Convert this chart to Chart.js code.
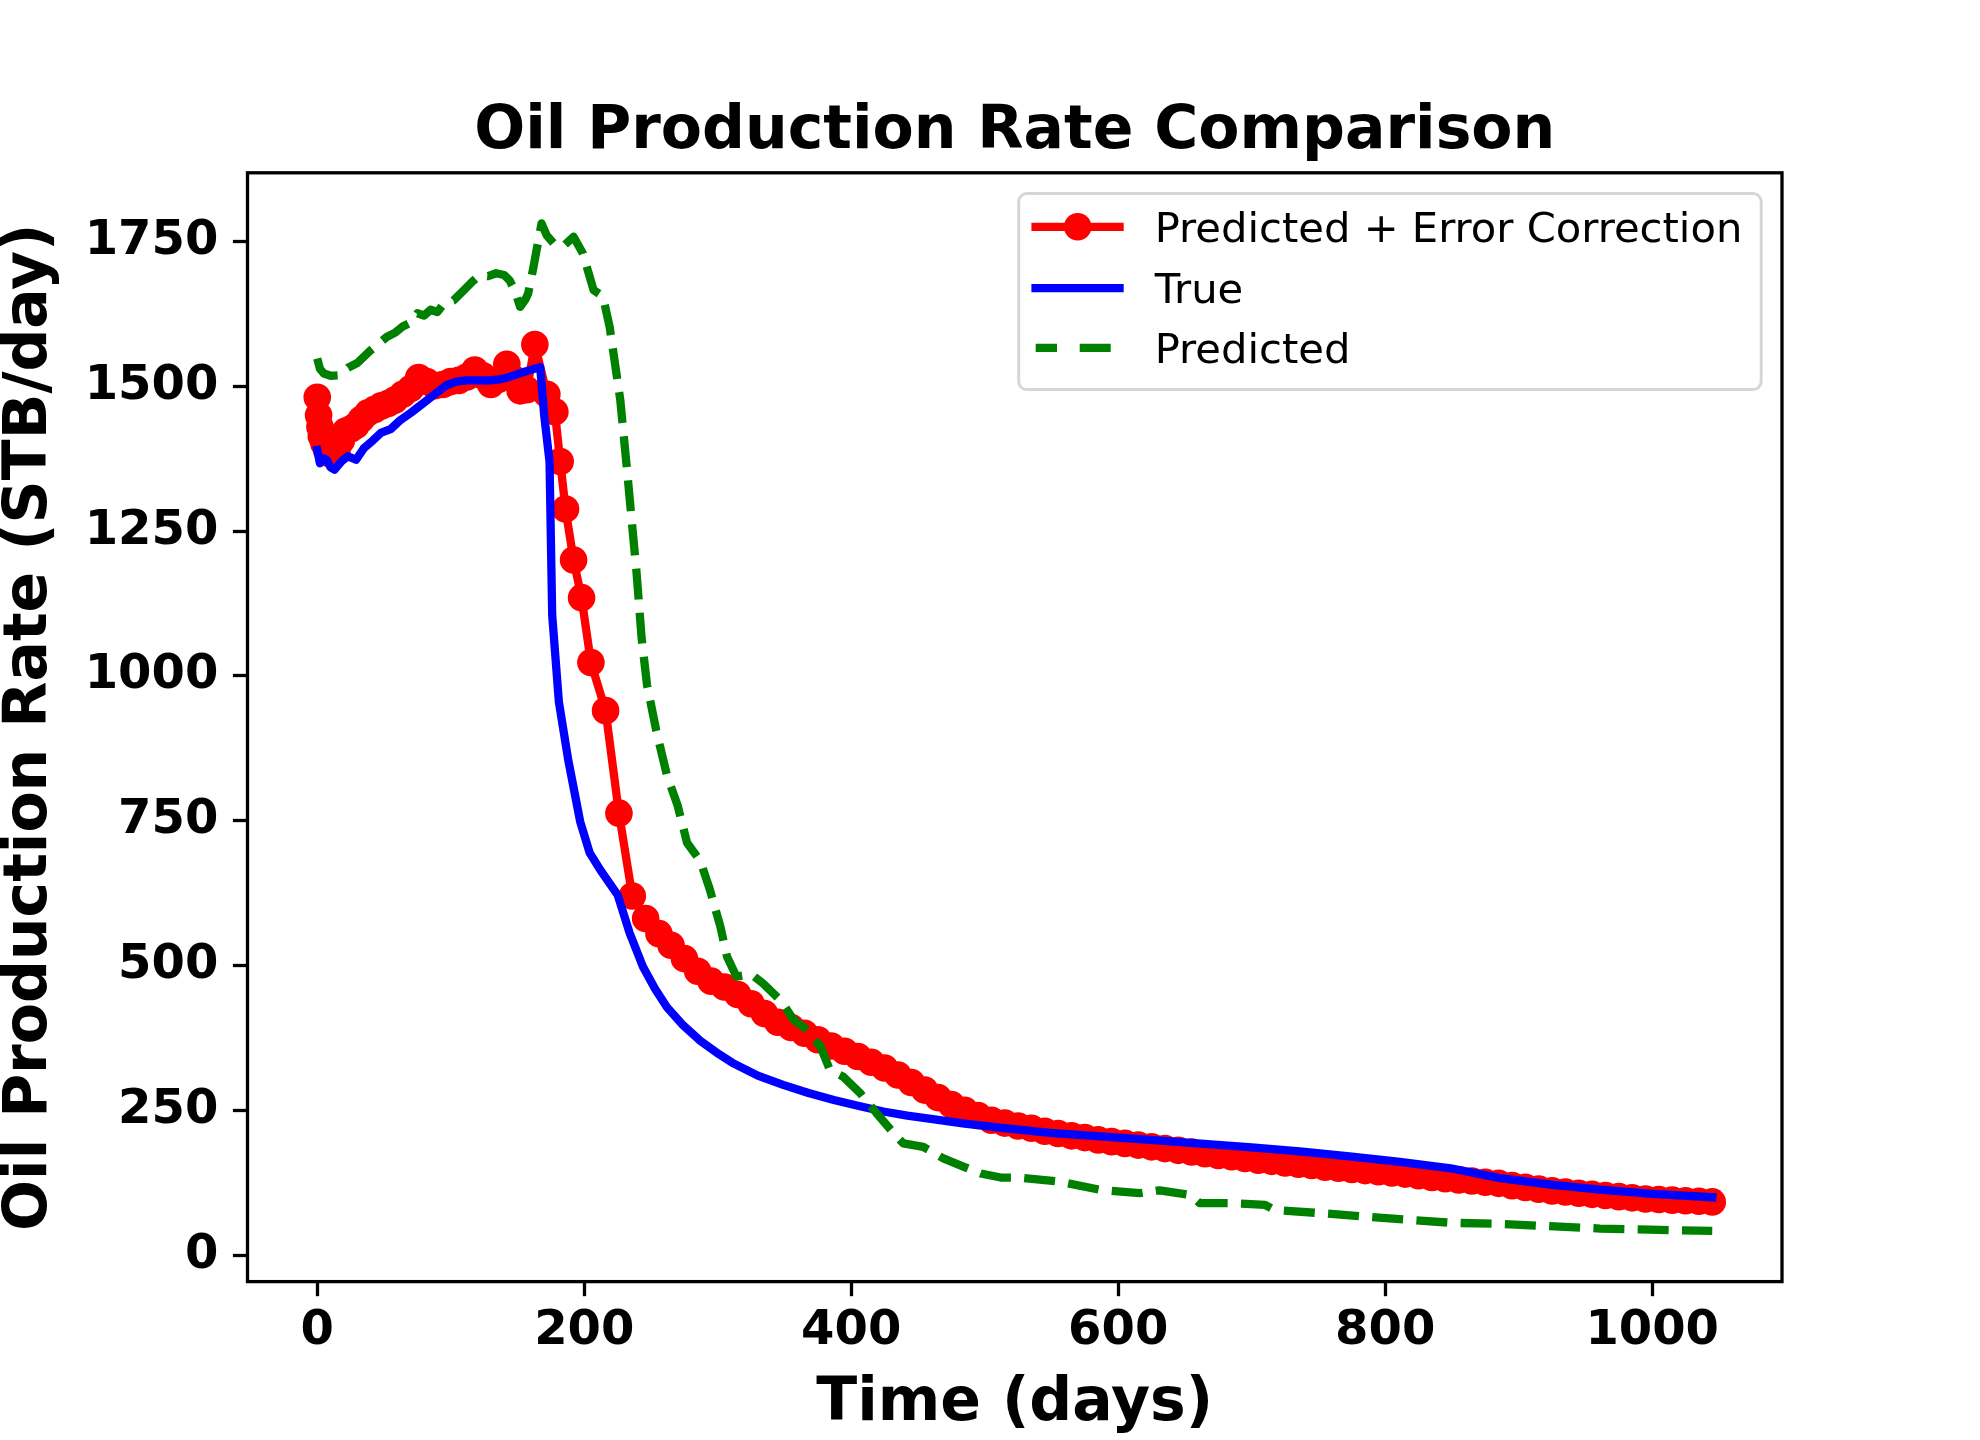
<!DOCTYPE html>
<html>
<head>
<meta charset="utf-8">
<title>Oil Production Rate Comparison</title>
<script src="https://cdn.jsdelivr.net/npm/chart.js@4.4.1/dist/chart.umd.min.js"></script>
<style>
  html, body { margin: 0; padding: 0; background: #fff; }
  canvas { display: block; }
</style>
</head>
<body>
<canvas id="rateChart" width="1980" height="1440"></canvas>
<script>
// Predicted + Error Correction (red, with markers)
const redDays = [0, 1, 2, 3, 5, 7, 9, 12, 15, 18, 21, 25, 29, 33, 38, 43, 48, 53, 58, 64,
  70, 76, 82, 88, 94, 100, 106, 112, 118, 124, 130, 136, 142, 147, 152, 157, 163, 172, 178, 182,
  186, 192, 198, 205, 216, 226, 236, 246, 256, 265,
  275, 285, 295, 305, 315, 325, 335, 345, 355, 365, 375, 385, 395, 405, 415, 425, 435, 445, 455, 465,
  475, 485, 495, 505, 515, 525, 535, 545, 555, 565, 575, 585, 595, 605, 615, 625, 635, 645, 655, 665,
  675, 685, 695, 705, 715, 725, 735, 745, 755, 765, 775, 785, 795, 805, 815, 825, 835, 845, 855, 865,
  875, 885, 895, 905, 915, 925, 935, 945, 955, 965, 975, 985, 995, 1005, 1015, 1025, 1035, 1045];
const redRate = [1481, 1450, 1430, 1414, 1401, 1390, 1384, 1382, 1392, 1406, 1422, 1426, 1432, 1443, 1454, 1460, 1466, 1470, 1476, 1486,
  1496, 1515, 1508, 1501, 1503, 1508, 1510, 1516, 1528, 1518, 1503, 1512, 1538, 1513, 1492, 1494, 1572, 1486, 1456, 1370,
  1288, 1200, 1135, 1023, 940, 763, 620, 581, 555, 535,
  512, 490, 473, 463, 450, 434, 417, 402, 393, 383, 372, 361, 352, 343, 333, 323, 311, 298, 285, 272,
  260, 250, 241, 233, 228, 223, 219, 214, 210, 206, 203, 199, 196, 193, 190, 187, 184, 181, 178, 175,
  172, 170, 167, 164, 162, 159, 157, 155, 152, 150, 148, 146, 144, 142, 140, 137, 134, 132, 130, 128,
  126, 124, 120, 117, 114, 111, 109, 107, 105, 103, 101, 99, 97, 96, 95, 94, 93, 92];

// True (blue)
const trueDays = [0, 2, 4, 7, 10, 13, 18, 23, 29, 35, 42, 48, 55, 62, 70, 79, 88, 97, 104, 112,
  120, 129, 137, 144, 154, 167, 170, 174, 176, 181, 188, 197, 204, 212, 225, 234, 244, 253, 262, 274,
  287, 299, 311, 330, 349, 368, 387, 405, 424, 442, 461, 485, 511, 549, 624, 700, 736, 775, 811, 849,
  886, 924, 961, 1000, 1045];
const trueRate = [1390, 1367, 1376, 1373, 1360, 1356, 1370, 1379, 1373, 1393, 1407, 1420, 1426, 1441, 1454, 1470, 1486, 1502, 1508, 1510,
  1510, 1510, 1512, 1516, 1524, 1533, 1450, 1370, 1105, 955, 855, 748, 695, 665, 622, 556, 498, 460, 428, 397,
  370, 350, 332, 310, 294, 280, 268, 258, 248, 241, 235, 227, 220, 211, 199, 186, 179, 170, 161, 150,
  133, 122, 113, 106, 100];

// Predicted (green dashed)
const predDays = [0, 2, 5, 10, 17, 23, 30, 40, 52, 58, 64, 70, 75, 80, 85, 90, 95, 102, 110, 116,
  122, 128, 134, 140, 144, 148, 152, 156, 158, 162, 168, 172, 177, 184, 192, 199, 207, 214, 219, 222,
  227, 232, 236, 239, 243, 247, 254, 262, 270, 277, 287, 294, 302, 307, 314, 325, 334, 347, 357, 367,
  377, 384, 394, 407, 419, 432, 439, 454, 469, 484, 497, 512, 526, 556, 586, 616, 631, 654, 661, 684,
  710, 717, 755, 818, 849, 886, 923, 961, 998, 1045];
const predRate = [1548, 1530, 1522, 1518, 1519, 1532, 1540, 1562, 1585, 1592, 1603, 1610, 1626, 1622, 1632, 1628, 1643, 1648, 1666, 1680,
  1692, 1690, 1695, 1692, 1683, 1665, 1637, 1650, 1660, 1706, 1781, 1760, 1747, 1741, 1758, 1729, 1666, 1655, 1603, 1556,
  1476, 1357, 1257, 1184, 1065, 985, 905, 828, 776, 712, 680, 632, 567, 515, 481, 485, 469, 440, 406, 389,
  360, 320, 308, 279, 245, 210, 193, 187, 167, 153, 141, 134, 134, 127, 113, 107, 112, 104, 90, 90,
  87, 78, 72, 61, 56, 54, 50, 46, 44, 42];

const xTicks = [0, 200, 400, 600, 800, 1000];
const yTicks = [0, 250, 500, 750, 1000, 1250, 1500, 1750];

function toPoints(xs, ys) {
  return xs.map((x, i) => ({ x: x, y: ys[i] }));
}

Chart.defaults.font.family = "'DejaVu Sans', sans-serif";
Chart.defaults.color = '#000';

// black box around the plot area (all four spines)
const framePlugin = {
  id: 'frame',
  afterDraw(chart) {
    const { ctx, chartArea: a } = chart;
    ctx.save();
    ctx.strokeStyle = '#000';
    ctx.lineWidth = 3.3;
    ctx.strokeRect(a.left, a.top, a.right - a.left, a.bottom - a.top);
    ctx.restore();
  }
};

// legend box in the upper right corner, drawn from the dataset styles
const legendPlugin = {
  id: 'boxLegend',
  afterDraw(chart) {
    const { ctx, chartArea: a } = chart;
    const w = 742.5, h = 196;
    const left = a.right - 20.8 - w;
    const top = a.top + 20.8;
    ctx.save();
    ctx.beginPath();
    ctx.roundRect(left, top, w, h, 8);
    ctx.fillStyle = 'rgba(255,255,255,0.8)';
    ctx.fill();
    ctx.lineWidth = 3;
    ctx.strokeStyle = '#d6d6d6';
    ctx.stroke();

    const lineY = [33.2, 94.5, 154.2];
    const textY = [48.8, 109.2, 169.2];
    chart.data.datasets.forEach((ds, i) => {
      const y = top + lineY[i];
      ctx.strokeStyle = ds.borderColor;
      ctx.lineWidth = ds.borderWidth;
      ctx.lineCap = 'butt';
      ctx.beginPath();
      if (ds.borderDash) {
        ctx.moveTo(left + 17, y); ctx.lineTo(left + 38.3, y);
        ctx.moveTo(left + 61, y); ctx.lineTo(left + 92, y);
      } else {
        ctx.moveTo(left + 12.7, y); ctx.lineTo(left + 105, y);
      }
      ctx.stroke();
      if (ds.pointRadius > 0) {
        ctx.beginPath();
        ctx.arc(left + 59, y, 13.8, 0, Math.PI * 2);
        ctx.fillStyle = ds.pointBackgroundColor;
        ctx.fill();
      }
      ctx.fillStyle = '#000';
      ctx.font = "41.7px 'DejaVu Sans', sans-serif";
      ctx.textAlign = 'left';
      ctx.textBaseline = 'alphabetic';
      ctx.fillText(ds.label, left + 136, top + textY[i]);
    });
    ctx.restore();
  }
};

const ctx = document.getElementById('rateChart').getContext('2d');

new Chart(ctx, {
  type: 'line',
  data: {
    datasets: [{
      label: 'Predicted + Error Correction',
      data: toPoints(redDays, redRate),
      borderColor: '#ff0000',
      backgroundColor: '#ff0000',
      borderWidth: 8.3,
      borderJoinStyle: 'round',
      pointRadius: 13.8,
      pointBorderWidth: 0,
      pointBackgroundColor: '#ff0000',
      order: 3
    }, {
      label: 'True',
      data: toPoints(trueDays, trueRate),
      borderColor: '#0000ff',
      borderWidth: 8.3,
      borderJoinStyle: 'round',
      borderCapStyle: 'square',
      pointRadius: 0,
      order: 2
    }, {
      label: 'Predicted',
      data: toPoints(predDays, predRate),
      borderColor: '#008000',
      borderWidth: 8.3,
      borderDash: [31, 13.3],
      borderJoinStyle: 'round',
      pointRadius: 0,
      order: 1
    }]
  },
  options: {
    responsive: false,
    devicePixelRatio: 1,
    animation: false,
    events: [],
    layout: { padding: { left: 0, right: 198, top: 0, bottom: 0 } },
    plugins: {
      legend: { display: false },
      tooltip: { enabled: false },
      title: {
        display: true,
        text: 'Oil Production Rate Comparison',
        fullSize: false,
        color: '#000',
        font: { size: 60, weight: 'bold', lineHeight: 1 },
        padding: { top: 102.5, bottom: 10.3 }
      }
    },
    scales: {
      x: {
        type: 'linear',
        min: -52.25,
        max: 1097.25,
        afterBuildTicks: s => { s.ticks = xTicks.map(v => ({ value: v })); },
        afterFit: s => { s.height = 158.4; },
        border: { display: false },
        grid: { drawOnChartArea: false, drawTicks: true, tickLength: 14.6, tickWidth: 3.3, tickColor: '#000' },
        ticks: {
          autoSkip: false, maxRotation: 0, padding: 7, color: '#000',
          font: { size: 48, weight: 'bold' },
          callback: v => String(v)
        },
        title: {
          display: true, text: 'Time (days)', color: '#000',
          font: { size: 60, weight: 'bold', lineHeight: 1 },
          padding: { top: 0, bottom: 6 }
        }
      },
      y: {
        type: 'linear',
        min: -45.6,
        max: 1868.4,
        afterBuildTicks: s => { s.ticks = yTicks.map(v => ({ value: v })); },
        afterFit: s => { s.width = 247.5; },
        border: { display: false },
        grid: { drawOnChartArea: false, drawTicks: true, tickLength: 14.6, tickWidth: 3.3, tickColor: '#000' },
        ticks: {
          autoSkip: false, padding: 14.6, color: '#000',
          font: { size: 48, weight: 'bold' },
          callback: v => String(v)
        },
        title: {
          display: true, text: 'Oil Production Rate (STB/day)', color: '#000',
          font: { size: 60, weight: 'bold', lineHeight: 1 },
          padding: { top: 0, bottom: 0 }
        }
      }
    }
  },
  plugins: [framePlugin, legendPlugin]
});
</script>
</body>
</html>
